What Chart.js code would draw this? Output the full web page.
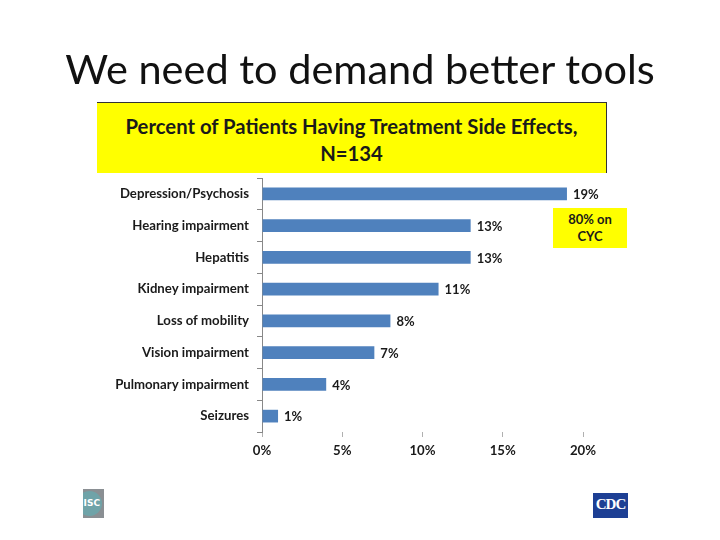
<!DOCTYPE html>
<html>
<head>
<meta charset="utf-8">
<script src="https://cdn.jsdelivr.net/npm/chart.js@4/dist/chart.umd.min.js"></script>
<style>
  html, body { margin:0; padding:0; background:#fff; }
  #wrap { position:relative; width:720px; height:540px; overflow:hidden; }
  #c { position:absolute; left:0; top:0; }
  #slideTitle { position:absolute; left:0; width:720px; top:40px; text-align:center;
    font-family:Lato, "Open Sans", sans-serif; font-size:41.5px; color:#111; line-height:56px; }
  #chartTitle { position:absolute; left:97px; top:102px; width:510px; height:71px; background:#ffff00;
    border-top:1px solid #333; border-right:1px solid #333; box-sizing:border-box;
    font-family:Lato, "Open Sans", sans-serif; font-weight:bold; font-size:20.3px; color:#1a1a1a;
    text-align:center; line-height:27px; padding-top:10px; }
  #note { position:absolute; left:553px; top:208px; width:74px; height:40px; background:#ffff00;
    font-family:Lato, "Open Sans", sans-serif; font-weight:bold; font-size:13px; color:#1a1a1a;
    text-align:center; line-height:17px; padding-top:3px; box-sizing:border-box; }
  #logoL { position:absolute; left:83px; top:489px; width:21px; height:29px; background:#8a8f93; overflow:hidden; }
  #logoL span { position:absolute; left:-6px; top:2px; width:25px; height:25px; border-radius:50%;
    background:#6fa3a8; color:#fff; font:bold 9px "DejaVu Sans", sans-serif; line-height:25px; text-align:right; padding-right:2px; box-sizing:border-box; }
  #logoR { position:absolute; left:593px; top:493px; width:35px; height:25px; background:#1d3f94;
    color:#fff; font:bold 15px "Liberation Serif", serif; line-height:22px; text-align:center; letter-spacing:-1px; }
</style>
</head>
<body>
<div id="wrap">
  <canvas id="c" width="720" height="540"></canvas>
  <div id="slideTitle">We need to demand better tools</div>
  <div id="chartTitle">Percent of Patients Having Treatment Side Effects,<br>N=134</div>
  <div id="note">80% on<br>CYC</div>
  <div id="logoL"><span>ISC</span></div>
  <div id="logoR">CDC</div>
</div>
<script>
const categories = ["Depression/Psychosis", "Hearing impairment", "Hepatitis", "Kidney impairment",
  "Loss of mobility", "Vision impairment", "Pulmonary impairment", "Seizures"];
const percentValues = [19, 13, 13, 11, 8, 7, 4, 1];
const xTickValues = [0, 5, 10, 15, 20];

const labelFont = { family: "Lato, 'Open Sans', sans-serif", weight: "bold", size: 13.2 };

const valueLabels = {
  id: "valueLabels",
  afterDatasetsDraw(chart) {
    const ctx = chart.ctx;
    const meta = chart.getDatasetMeta(0);
    ctx.save();
    ctx.font = "bold 13px Lato, 'Open Sans', sans-serif";
    ctx.fillStyle = "#1a1a1a";
    ctx.textAlign = "left";
    ctx.textBaseline = "middle";
    meta.data.forEach((bar, i) => {
      ctx.fillText(percentValues[i] + "%", bar.x + 6, bar.y + 1);
    });
    ctx.restore();
  }
};

new Chart(document.getElementById("c"), {
  type: "bar",
  data: {
    labels: categories,
    datasets: [{
      data: percentValues,
      backgroundColor: "#4F81BD",
      borderWidth: 0,
      barPercentage: 0.4,
      categoryPercentage: 1.0
    }]
  },
  options: {
    indexAxis: "y",
    responsive: false,
    animation: false,
    devicePixelRatio: 1,
    layout: { padding: { top: 178, right: 137, left: 0, bottom: 0 } },
    plugins: { legend: { display: false }, tooltip: { enabled: false }, title: { display: false } },
    scales: {
      x: {
        min: 0, max: 20,
        afterBuildTicks(scale) { scale.ticks = xTickValues.map(v => ({ value: v })); },
        afterFit(scale) { scale.height = 108; },
        ticks: { callback: v => v + "%", font: labelFont, color: "#1a1a1a", padding: 6, maxRotation: 0 },
        grid: { drawOnChartArea: false, drawTicks: true, tickLength: 5, color: "#b0b0b0" },
        border: { display: false }
      },
      y: {
        afterFit(scale) { scale.width = 262; },
        ticks: { font: labelFont, color: "#1a1a1a", padding: 8 },
        grid: { drawOnChartArea: false, drawTicks: true, tickLength: 5, color: "#888", offset: true },
        border: { display: true, color: "#888", width: 1 }
      }
    }
  },
  plugins: [valueLabels]
});
</script>
</body>
</html>
